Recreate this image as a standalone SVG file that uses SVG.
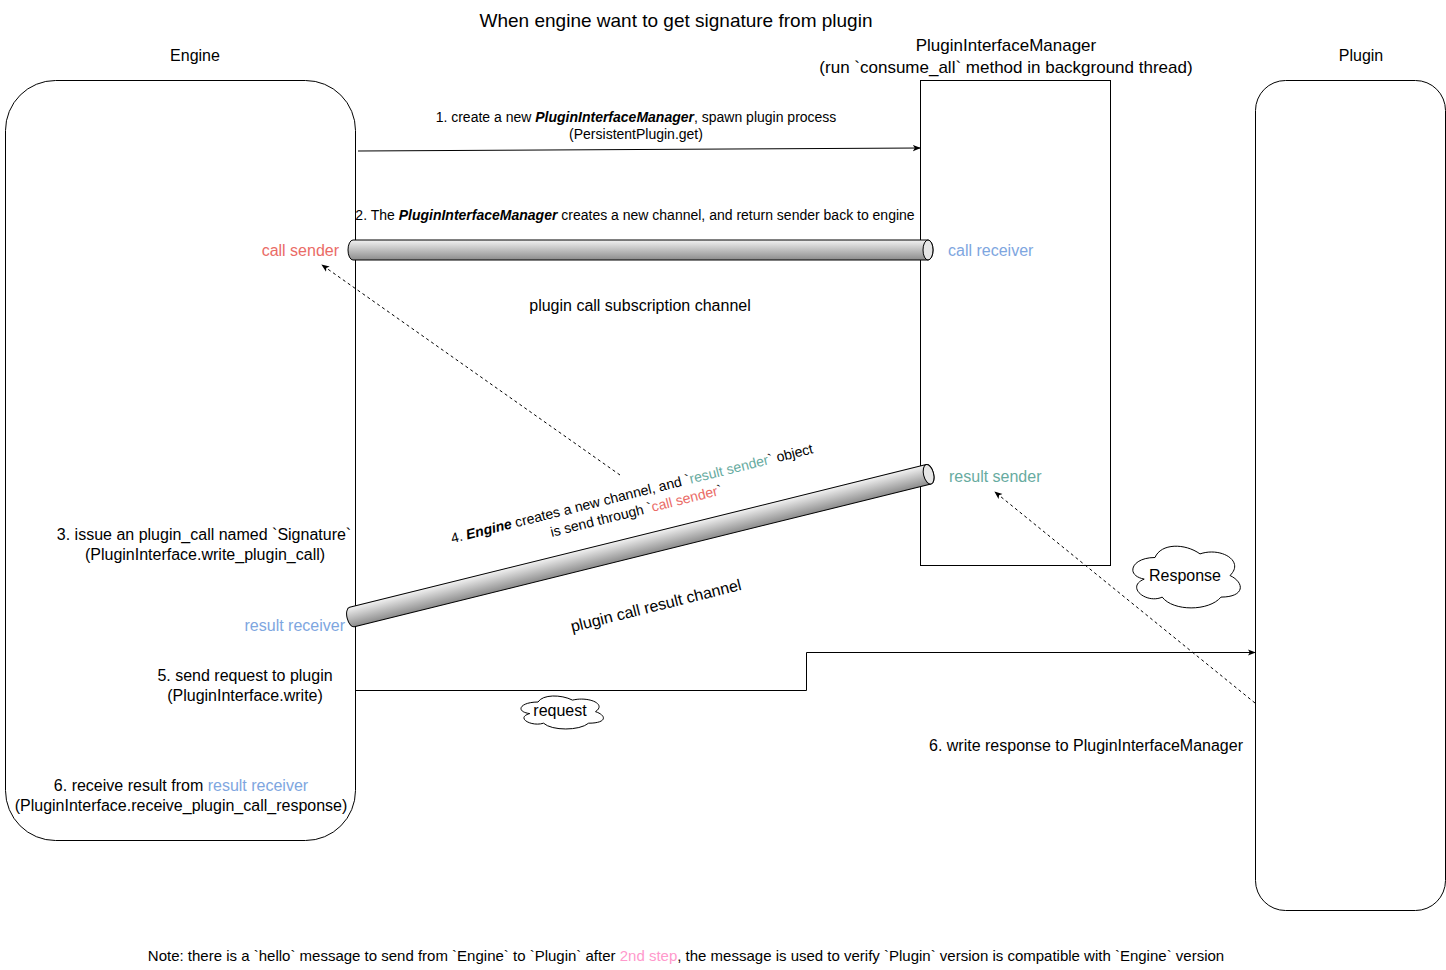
<svg xmlns="http://www.w3.org/2000/svg" width="1446" height="970" viewBox="0 0 1446 970">
<style>
text{font-family:"Liberation Sans",Arial,Helvetica,sans-serif;fill:#000}
.t16{font-size:16px}
.t17{font-size:17px}
.t14{font-size:14px}
.t15{font-size:15px}
.mid{text-anchor:middle}
.end{text-anchor:end}
.box{fill:#fff;stroke:#000;stroke-width:1}
.line{fill:none;stroke:#000;stroke-width:1}
.dash{fill:none;stroke:#000;stroke-width:1;stroke-dasharray:3 3}
.pipe{fill:url(#pg);stroke:#000;stroke-width:1}
.cap{fill:#e6e6e6;stroke:#000;stroke-width:1}
.red{fill:#EA6B66}
.blue{fill:#7EA6E0}
.green{fill:#67AB9F}
.pink{fill:#FF99CC}
</style>
<defs>
<linearGradient id="pg" x1="0" y1="0" x2="0" y2="1">
<stop offset="0" stop-color="#f2f2f2"/>
<stop offset="1" stop-color="#8c8c8c"/>
</linearGradient>
<marker id="arr" viewBox="0 0 10 10" refX="9" refY="5" markerWidth="8" markerHeight="8" markerUnits="userSpaceOnUse" orient="auto">
<path d="M0,1 L10,5 L0,9 L2.5,5 Z" fill="#000"/>
</marker>
</defs>
<rect width="1446" height="970" fill="#fff"/>

<text id="title" class="mid" x="676" y="27" style="font-size:19px">When engine want to get signature from plugin</text>

<g id="engine">
<rect class="box" x="5.5" y="80.5" width="350" height="760" rx="50" ry="50"/>
<text class="t16 mid" x="195" y="61">Engine</text>
<text class="t16 mid" x="204" y="540">3. issue an plugin_call named `Signature`</text>
<text class="t16 mid" x="205" y="560">(PluginInterface.write_plugin_call)</text>
<text class="t16 mid" x="245" y="681">5. send request to plugin</text>
<text class="t16 mid" x="245" y="701">(PluginInterface.write)</text>
<text class="t16 mid" x="181" y="791">6. receive result from <tspan class="blue">result receiver</tspan></text>
<text class="t16 mid" x="181" y="811">(PluginInterface.receive_plugin_call_response)</text>
</g>

<g id="pim">
<rect class="box" x="920.5" y="80.5" width="190" height="485"/>
<text class="t17 mid" x="1006" y="51">PluginInterfaceManager</text>
<text class="t17 mid" x="1006" y="73">(run `consume_all` method in background thread)</text>
</g>

<g id="plugin">
<rect class="box" x="1255.5" y="80.5" width="190" height="830" rx="30" ry="30"/>
<text class="t16 mid" x="1361" y="61">Plugin</text>
<text class="t16 mid" x="1086" y="751">6. write response to PluginInterfaceManager</text>
</g>

<g id="subscription-channel">
<path class="pipe" d="M353,240 L928,240 A5,10 0 0 1 928,260 L353,260 A5,10 0 0 1 353,240 Z"/>
<ellipse class="cap" cx="928" cy="250" rx="5" ry="10"/>
<text class="t16 end red" x="339" y="256">call sender</text>
<text class="t16 blue" x="948" y="256">call receiver</text>
<text class="t16 mid" x="640" y="311">plugin call subscription channel</text>
</g>

<g id="result-channel">
<g transform="translate(352,617) rotate(-13.9)">
<path class="pipe" d="M0,-10 L594,-10 A5,10 0 0 1 594,10 L0,10 A5,10 0 0 1 0,-10 Z"/>
<ellipse class="cap" cx="594" cy="0" rx="5" ry="10"/>
</g>
<text class="t16 green" x="949" y="482">result sender</text>
<text class="t16 end blue" x="345" y="631">result receiver</text>
<g transform="translate(656,606) rotate(-14)">
<text class="t16 mid" x="0" y="5">plugin call result channel</text>
</g>
</g>

<g id="step4-label" transform="translate(634,502) rotate(-14)">
<text class="t14 mid" x="0" y="-4">4. <tspan font-weight="bold" font-style="italic">Engine</tspan> creates a new channel, and `<tspan class="green">result sender</tspan>` object</text>
<text class="t14 mid" x="0" y="14">is send through `<tspan class="red">call sender</tspan>`</text>
</g>

<g id="request-cloud">
<path class="box" d="M538,702.03 C519.6,702.03 515,711.65 529.72,713.58 C515,717.81 531.56,727.05 543.52,723.2 C551.8,730.9 579.4,730.9 588.6,723.2 C607,723.2 607,715.5 595.5,711.65 C607,703.95 588.6,696.25 572.5,700.1 C561,694.33 542.6,694.33 538,702.03 Z"/>
<text class="t16 mid" x="560" y="716">request</text>
</g>

<g id="response-cloud">
<path class="box" d="M1155,557.5 C1131,557.5 1125,575.5 1144.2,579.1 C1125,587.02 1146.6,604.3 1162.2,597.1 C1173,611.5 1209,611.5 1221,597.1 C1245,597.1 1245,582.7 1230,575.5 C1245,561.1 1221,546.7 1200,553.9 C1185,543.1 1161,543.1 1155,557.5 Z"/>
<text class="t16 mid" x="1185" y="581">Response</text>
</g>

<g id="connectors">
<path class="line" d="M358,151 L920,148" marker-end="url(#arr)"/>
<text class="t14 mid" x="636" y="122">1. create a new <tspan font-weight="bold" font-style="italic">PluginInterfaceManager</tspan>, spawn plugin process</text>
<text class="t14 mid" x="636" y="139">(PersistentPlugin.get)</text>
<text class="t14 mid" x="635" y="220">2. The <tspan font-weight="bold" font-style="italic">PluginInterfaceManager</tspan> creates a new channel, and return sender back to engine</text>
<path class="dash" d="M620,475 L322,265" marker-end="url(#arr)"/>
<path class="dash" d="M1255,703 L995,492" marker-end="url(#arr)"/>
<path class="line" d="M356,690.5 L806.5,690.5 L806.5,652.5 L1255,652.5" marker-end="url(#arr)"/>
</g>

<text id="note" class="t15 mid" x="686" y="961">Note: there is a `hello` message to send from `Engine` to `Plugin` after <tspan class="pink">2nd step</tspan>, the message is used to verify `Plugin` version is compatible with `Engine` version</text>
</svg>
